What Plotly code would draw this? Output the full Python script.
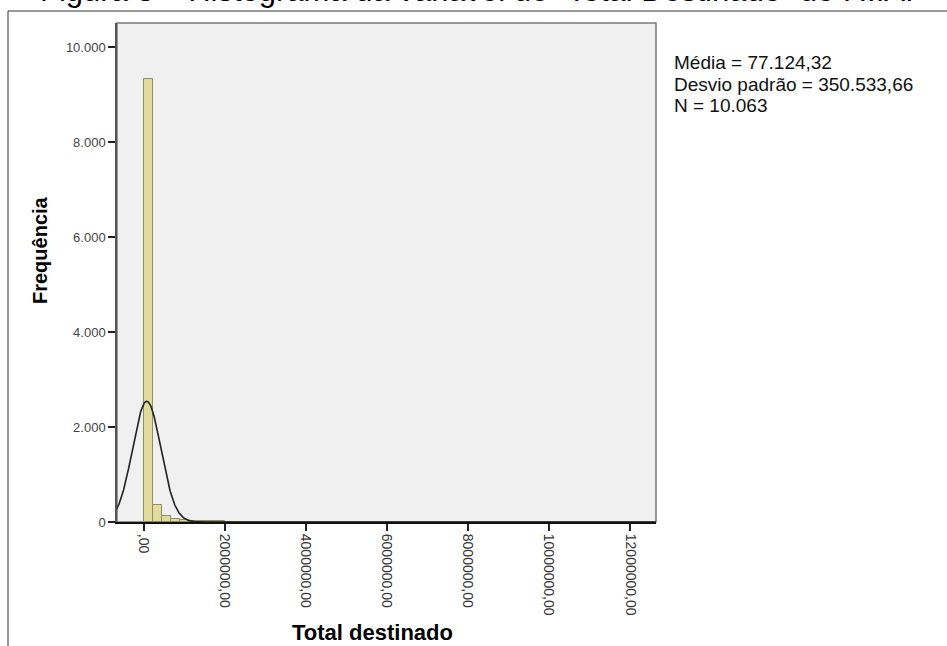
import numpy as np
import plotly.graph_objects as go

# ---- data ----
bin_width = 222000.0
counts = [9330, 360, 126, 55, 35, 24, 18, 14, 11, 9, 8, 6, 5, 5, 4, 4, 3, 3, 3, 2,
          2, 2, 2, 2, 1, 1, 1, 1, 1, 1, 1, 1, 1, 1, 1, 1, 1, 1, 0, 1, 0, 1, 0, 1,
          0, 1, 0, 0, 1, 0, 0, 1, 0, 0, 1]
mean_val = 77124.32
sd_val = 350533.66
n_val = 10063

y_tickvals = [0, 2000, 4000, 6000, 8000, 10000]
y_ticktext = ["0", "2.000", "4.000", "6.000", "8.000", "10.000"]
x_tickvals = [0, 2000000, 4000000, 6000000, 8000000, 10000000, 12000000]
x_ticktext = [",00", "2000000,00", "4000000,00", "6000000,00", "8000000,00",
              "10000000,00", "12000000,00"]

stats_text = ["Média = 77.124,32", "Desvio padrão = 350.533,66", "N = 10.063"]
title_text = "Figura 3 – Histograma da variável de “Total Destinado” do F.I.A."
x_title = "Total destinado"
y_title = "Frequência"

# ---- derived ----
bin_starts = [i * bin_width for i in range(len(counts))]
xs = np.linspace(-700000, 12700000, 1500)
ys = n_val * bin_width / (sd_val * np.sqrt(2 * np.pi)) * np.exp(-0.5 * ((xs - mean_val) / sd_val) ** 2)

fig = go.Figure()
fig.add_trace(go.Bar(
    x=bin_starts, y=counts, width=bin_width, offset=0,
    marker=dict(color="#E2DC9C", line=dict(color="#8E8C6A", width=1)),
    showlegend=False, hoverinfo="skip",
))
fig.add_trace(go.Scatter(
    x=xs, y=ys, mode="lines", line=dict(color="#222222", width=1.6),
    showlegend=False, hoverinfo="skip",
))

L, R, T, B = 117, 656, 23, 522
W, H = 947, 646
pw, ph = R - L, B - T

def px(x):
    return (x - L) / pw

def py(y):
    return (B - y) / ph

shapes = [
    dict(type="rect", xref="paper", yref="paper", x0=0, x1=1, y0=0, y1=1,
         line=dict(color="#7a7a7a", width=1.5), fillcolor="#F0F0F0", layer="below"),
    dict(type="line", xref="paper", yref="paper", x0=px(8), x1=px(960), y0=py(11), y1=py(11),
         line=dict(color="#333333", width=1)),
    dict(type="line", xref="paper", yref="paper", x0=px(8), x1=px(8), y0=py(11), y1=py(660),
         line=dict(color="#333333", width=1)),
]

font_fam = "Liberation Sans, Arial"
annotations = [
    dict(text=title_text, xref="paper", yref="paper", x=px(38), y=py(-10),
         xanchor="left", yanchor="middle", showarrow=False,
         font=dict(family=font_fam, size=31, color="#000")),
    dict(text="<b>" + x_title + "</b>", xref="paper", yref="paper", x=px(372), y=py(632),
         xanchor="center", yanchor="middle", showarrow=False,
         font=dict(family=font_fam, size=22, color="#000")),
    dict(text="<b>" + y_title + "</b>", xref="paper", yref="paper", x=px(40), y=py(250),
         xanchor="center", yanchor="middle", showarrow=False, textangle=-90,
         font=dict(family=font_fam, size=20, color="#000")),
]
for s, yy in zip(stats_text, [63, 84, 105]):
    annotations.append(dict(text=s, xref="paper", yref="paper", x=px(672), y=py(yy),
                            xanchor="left", yanchor="middle", showarrow=False,
                            font=dict(family=font_fam, size=19, color="#111")))

fig.update_layout(
    width=W, height=H,
    margin=dict(l=L, r=W - R, t=T, b=H - B, pad=0),
    paper_bgcolor="white", plot_bgcolor="#F0F0F0",
    bargap=0,
    shapes=shapes, annotations=annotations,
    xaxis=dict(
        range=[-656000, 12640000], showgrid=False, zeroline=False, automargin=False,
        tickvals=x_tickvals, ticktext=x_ticktext, tickangle=90,
        ticks="outside", ticklen=7, tickwidth=1.5, tickcolor="#222",
        showline=True, linecolor="#111", linewidth=2,
        tickfont=dict(family=font_fam, size=14, color="#333"),
    ),
    yaxis=dict(
        range=[0, 10505], showgrid=False, zeroline=False, automargin=False,
        tickvals=y_tickvals, ticktext=y_ticktext,
        ticks="outside", ticklen=7, tickwidth=1.5, tickcolor="#222",
        showline=True, linecolor="#555", linewidth=1.5,
        tickfont=dict(family=font_fam, size=13, color="#444"),
    ),
)

fig.write_html("out.html", config={"displayModeBar": False},
               post_script="document.body.style.margin='0';document.body.style.overflow='hidden';")
